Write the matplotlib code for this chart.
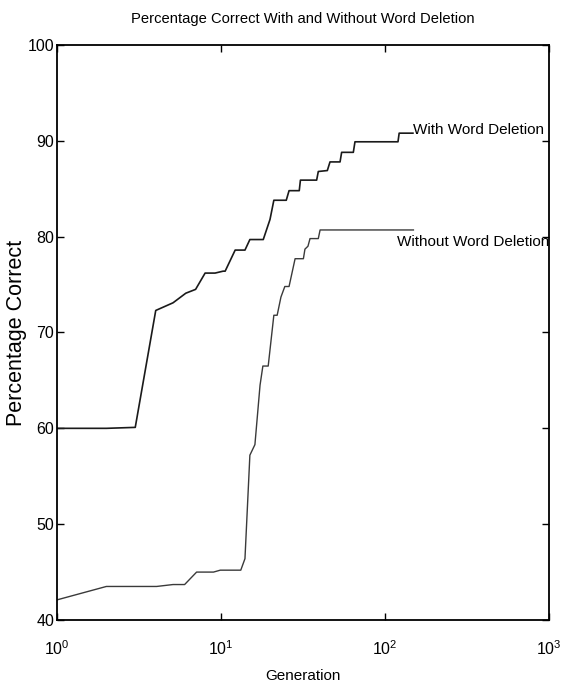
import matplotlib
matplotlib.use("Agg")
import matplotlib.pyplot as plt

fam = 'Liberation Sans'
plt.rcParams['font.family'] = [fam, 'DejaVu Sans']
plt.rcParams['mathtext.fontset'] = 'custom'
plt.rcParams['mathtext.rm'] = fam
plt.rcParams['mathtext.it'] = fam
plt.rcParams['mathtext.bf'] = fam

# With Word Deletion
with_gen = [1, 2, 3, 4, 5.1, 6.1, 7, 8, 9.2, 10.3, 10.6, 12.2, 14, 15, 18.1, 19.9, 21, 25, 26,
            30, 30.5, 38.3, 39.2, 44.5, 46.2, 53.2, 54.4, 64.1, 65.6, 120, 122, 148]
with_pct = [60.0, 60.0, 60.1, 72.3, 73.1, 74.1, 74.5, 76.2, 76.2, 76.4, 76.4, 78.6, 78.6, 79.7, 79.7,
            81.8, 83.8, 83.8, 84.8, 84.8, 85.9, 85.9, 86.8, 86.9, 87.8, 87.8, 88.8, 88.8, 89.9,
            89.9, 90.8, 90.8]

# Without Word Deletion
without_gen = [1, 2, 4.05, 5.1, 6.0, 7.1, 9, 9.9, 13.2, 14, 15, 16.1, 17.3, 18, 19.4, 21, 22,
               23.2, 24.5, 26, 28.3, 31.8, 32.5, 33.9, 34.9, 39.2, 40.2, 149]
without_pct = [42.1, 43.5, 43.5, 43.7, 43.7, 45.0, 45.0, 45.2, 45.2, 46.4, 57.2, 58.3, 64.5, 66.5,
               66.5, 71.8, 71.8, 73.7, 74.8, 74.8, 77.7, 77.7, 78.7, 79.0, 79.8, 79.8, 80.7, 80.7]

y_ticks = [40, 50, 60, 70, 80, 90, 100]
x_ticks = [1, 10, 100, 1000]

fig = plt.figure(figsize=(5.61, 6.86), dpi=100)
ax = fig.add_axes([57/561, 66/686, 492/561, 575/686])

ax.plot(with_gen, with_pct, color='#1a1a1a', lw=1.2)
ax.plot(without_gen, without_pct, color='#3a3a3a', lw=1.0)

ax.text(148, 91.1, 'With Word Deletion', fontsize=11, va='center', ha='left')
ax.text(118, 79.4, 'Without Word Deletion', fontsize=11, va='center', ha='left')

ax.set_xscale('log')
ax.set_xlim(1, 1000)
ax.set_ylim(40, 100)
ax.set_xticks(x_ticks)
ax.xaxis.set_minor_locator(matplotlib.ticker.NullLocator())
ax.set_yticks(y_ticks)
ax.tick_params(direction='in', top=True, right=True, length=5, width=1, labelsize=11.5)
ax.tick_params(axis='x', pad=14)
ax.tick_params(axis='y', pad=2)
for s in ax.spines.values():
    s.set_linewidth(1.3)

ax.set_title('Percentage Correct With and Without Word Deletion', fontsize=10.6, pad=16)
ax.set_xlabel('Generation', fontsize=11)
ax.xaxis.set_label_coords(0.5, -49/575)
ax.set_ylabel('Percentage Correct', fontsize=15.5)
ax.yaxis.set_label_coords(-30/492, 0.5)

fig.savefig('out.png', dpi=100)
